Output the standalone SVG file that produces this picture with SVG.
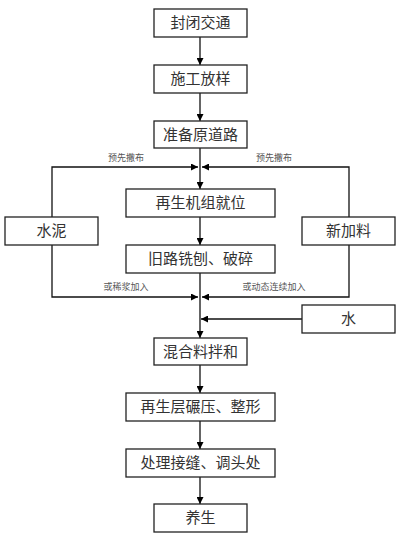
<svg xmlns="http://www.w3.org/2000/svg" width="400" height="539" viewBox="0 0 400 539">
<defs>
<marker id="ah" viewBox="0 0 10 10" refX="10" refY="5" markerWidth="7" markerHeight="7" markerUnits="userSpaceOnUse" orient="auto">
<path d="M0,0 L10,5 L0,10 z" fill="#000"/>
</marker>
<style>
.box{fill:#fff;stroke:#222;stroke-width:1.3}
.t{font-family:"Liberation Serif","Noto Sans CJK SC",serif;font-size:15px;fill:#333;text-anchor:middle;dominant-baseline:central}
.s{font-family:"Liberation Serif","Noto Sans CJK SC",serif;font-size:9px;fill:#555;text-anchor:middle}
.ln{fill:none;stroke:#111;stroke-width:1.3}
</style>
</defs>
<rect width="400" height="539" fill="#fff"/>
<g id="connectors">
<line class="ln" x1="200" y1="37" x2="200" y2="65" marker-end="url(#ah)"/>
<line class="ln" x1="200" y1="93" x2="200" y2="121" marker-end="url(#ah)"/>
<line class="ln" x1="200" y1="148" x2="200" y2="189" marker-end="url(#ah)"/>
<polyline class="ln" points="52,217 52,167 198,167" marker-end="url(#ah)"/>
<polyline class="ln" points="349,217 349,167 202,167" marker-end="url(#ah)"/>
<line class="ln" x1="200" y1="217" x2="200" y2="245" marker-end="url(#ah)"/>
<line class="ln" x1="200" y1="273" x2="200" y2="338" marker-end="url(#ah)"/>
<polyline class="ln" points="52,245 52,297 198,297" marker-end="url(#ah)"/>
<polyline class="ln" points="349,245 349,297 202,297" marker-end="url(#ah)"/>
<line class="ln" x1="302" y1="319" x2="201" y2="319" marker-end="url(#ah)"/>
<line class="ln" x1="200" y1="365" x2="200" y2="393" marker-end="url(#ah)"/>
<line class="ln" x1="200" y1="421" x2="200" y2="449" marker-end="url(#ah)"/>
<line class="ln" x1="200" y1="477" x2="200" y2="504" marker-end="url(#ah)"/>
<text class="s" x="126" y="161">预先撒布</text>
<text class="s" x="274" y="161">预先撒布</text>
<text class="s" x="126" y="290">或稀浆加入</text>
<text class="s" x="274" y="290">或动态连续加入</text>
</g>
<g id="n1"><rect class="box" x="154" y="9" width="93" height="28"/><text class="t" x="200.5" y="23">封闭交通</text></g>
<g id="n2"><rect class="box" x="154" y="65" width="93" height="28"/><text class="t" x="200.5" y="79">施工放样</text></g>
<g id="n3"><rect class="box" x="154" y="121" width="93" height="27"/><text class="t" x="200.5" y="134.5">准备原道路</text></g>
<g id="n4"><rect class="box" x="126" y="189" width="149" height="28"/><text class="t" x="200.5" y="203">再生机组就位</text></g>
<g id="n5"><rect class="box" x="5" y="217" width="93" height="28"/><text class="t" x="51.5" y="231">水泥</text></g>
<g id="n6"><rect class="box" x="302" y="217" width="93" height="28"/><text class="t" x="348.5" y="231">新加料</text></g>
<g id="n7"><rect class="box" x="126" y="245" width="149" height="28"/><text class="t" x="200.5" y="259">旧路铣刨、破碎</text></g>
<g id="n8"><rect class="box" x="302" y="305" width="93" height="28"/><text class="t" x="348.5" y="319">水</text></g>
<g id="n9"><rect class="box" x="154" y="338" width="93" height="27"/><text class="t" x="200.5" y="351.5">混合料拌和</text></g>
<g id="n10"><rect class="box" x="126" y="393" width="149" height="28"/><text class="t" x="200.5" y="407">再生层碾压、整形</text></g>
<g id="n11"><rect class="box" x="126" y="449" width="149" height="28"/><text class="t" x="200.5" y="463">处理接缝、调头处</text></g>
<g id="n12"><rect class="box" x="154" y="504" width="93" height="28"/><text class="t" x="200.5" y="518">养生</text></g>
</svg>
